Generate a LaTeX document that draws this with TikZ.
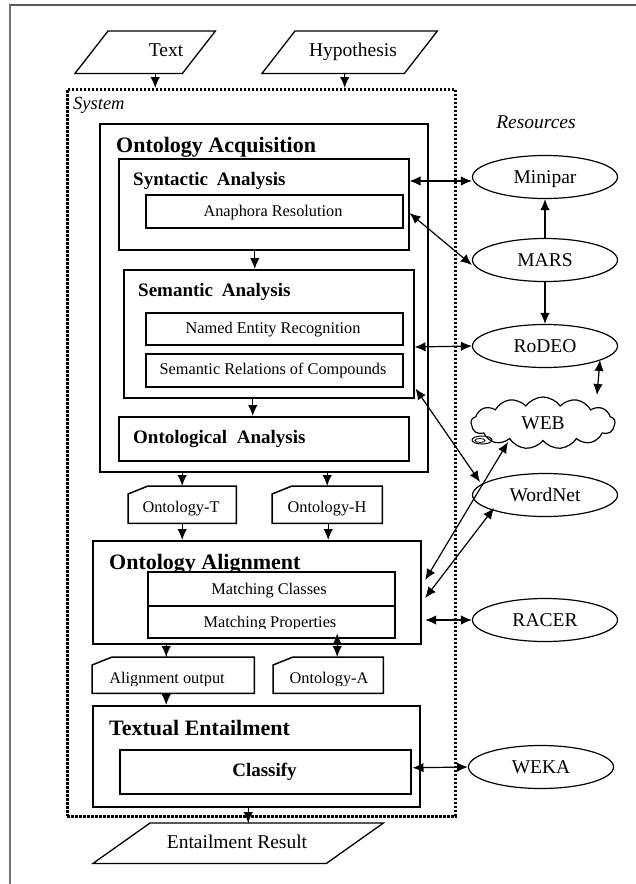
\documentclass[tikz,border=0pt]{standalone}
\usepackage{fontspec}
\setmainfont{Liberation Serif}
\usetikzlibrary{arrows.meta,calc,shapes.geometric,shapes.symbols}

\newcommand\fs[1]{\fontsize{#1}{#1}\selectfont}
% chamfered data box (top-left corner cut off)
\newcommand\cutcorner[1]{\draw[line width=1.5pt] ($(#1.north west)+(0,8)$) -- ($(#1.north west)+(20,0)$) -- (#1.north east) -- (#1.south east) -- (#1.south west) -- cycle;}
% slanted input/output box
\newcommand\slanted[2]{\draw[line width=1.3pt] (#1.south west) -- ($(#1.north west)+(#2,0)$) -- (#1.north east) -- ($(#1.south east)+(-#2,0)$) -- cycle;}

\begin{document}
\begin{tikzpicture}[x=1pt,y=-1pt,
  tip/.style={line width=1.2pt,-{Latex[length=11pt,width=9.5pt]}},
  dbl/.style={line width=1.2pt,{Latex[length=11pt,width=9.5pt]}-{Latex[length=11pt,width=9.5pt]}},
  outerbox/.style={draw, line width=2.2pt, inner sep=0pt, anchor=north west},
  innerbox/.style={draw, line width=1.5pt, inner sep=0pt, anchor=north west, fill=white},
  plainbox/.style={inner sep=0pt, anchor=north west},
  res/.style={draw, ellipse, line width=1.2pt, minimum width=145pt, minimum height=43pt,
    inner sep=0pt, text height=13.3pt, text depth=0pt, font=\fs{19.5}},
  bigtitle/.style={anchor=base west, inner sep=0pt, font=\bfseries\fs{22}},
  midtitle/.style={anchor=base west, inner sep=0pt, font=\bfseries\fs{19}},
  small/.style={anchor=base, inner sep=0pt, font=\fs{16.3}},
  io/.style={anchor=base, inner sep=0pt, font=\fs{19.5}}
]
\useasboundingbox (0,0) rectangle (636,884);

% page frame
\draw[black!65, line width=2pt] (9,5) -- (636,5);
\draw[black!55, line width=2.2pt] (10,5) -- (10,884);

% system frame
\node[draw, line width=2.8pt, dash pattern=on 2.4pt off 1.6pt, inner sep=0pt, anchor=north west,
  minimum width=388pt, minimum height=727pt] (sys) at (66,88) {};
\node[anchor=base west, inner sep=0pt, font=\itshape\fs{18.5}] (syslbl) at (73,109) {System};
\node[anchor=base, inner sep=0pt, font=\itshape\fs{19.5}] (reslbl) at (536,128.5) {Resources};

% inputs
\node[plainbox, minimum width=140pt, minimum height=42pt] (text) at (75,31) {};
\slanted{text}{33}
\node[io] at (166,56.5) {Text};
\node[plainbox, minimum width=175pt, minimum height=42pt] (hyp) at (262,31) {};
\slanted{hyp}{33}
\node[io] at (353,56.5) {Hypothesis};

% ontology acquisition
\node[outerbox, minimum width=328pt, minimum height=348pt] (oacq) at (99,123) {};
\node[bigtitle] at (116,152) {Ontology Acquisition};
\node[innerbox, minimum width=290pt, minimum height=91pt] (syn) at (118,158) {};
\node[midtitle] at (133,185) {Syntactic\hspace{4pt} Analysis};
\node[innerbox, minimum width=257pt, minimum height=33pt] (ana) at (145,194) {};
\node[small] at (273,216.5) {Anaphora Resolution};
\node[innerbox, minimum width=290pt, minimum height=128pt] (sem) at (123,269) {};
\node[midtitle] at (138,296) {Semantic\hspace{4pt} Analysis};
\node[innerbox, minimum width=257pt, minimum height=32pt] (ner) at (145,312) {};
\node[small] at (273,333.5) {Named Entity Recognition};
\node[innerbox, minimum width=257pt, minimum height=33pt] (src) at (145,353) {};
\node[small] at (273,374.5) {Semantic Relations of Compounds};
\node[innerbox, minimum width=290pt, minimum height=44pt] (ont) at (118,416) {};
\node[midtitle] at (133,443) {Ontological\hspace{5pt} Analysis};

% intermediate ontologies
\node[plainbox, minimum width=108pt, minimum height=37pt] (ontT) at (128,486) {};
\cutcorner{ontT}
\begin{scope}
  \clip (128,486) rectangle (236,515);
  \node[small] at (181,512.7) {Ontology-T};
\end{scope}
\node[plainbox, minimum width=110pt, minimum height=37pt] (ontH) at (272,486) {};
\cutcorner{ontH}
\begin{scope}
  \clip (272,486) rectangle (382,515);
  \node[small] at (327,512.7) {Ontology-H};
\end{scope}

% ontology alignment
\node[outerbox, minimum width=328pt, minimum height=103pt] (oal) at (92,540) {};
\node[bigtitle] at (109,569) {Ontology Alignment};
\node[innerbox, minimum width=247pt, minimum height=34pt] (mc) at (147,571) {};
\node[small] at (269,594.5) {Matching Classes};
\node[innerbox, minimum width=247pt, minimum height=32pt] (mp) at (147,605) {};
\begin{scope}
  \clip (147,605) rectangle (394,628);
  \node[small] at (270,627) {Matching Properties};
\end{scope}

\node[plainbox, minimum width=162pt, minimum height=36pt] (aout) at (92,657) {};
\cutcorner{aout}
\begin{scope}
  \clip (92,657) rectangle (254,685);
  \node[small] at (167,683.3) {Alignment output};
\end{scope}
\node[plainbox, minimum width=110pt, minimum height=36pt] (ontA) at (273,657) {};
\cutcorner{ontA}
\begin{scope}
  \clip (273,657) rectangle (383,685);
  \node[small] at (329,683) {Ontology-A};
\end{scope}

% textual entailment
\node[outerbox, minimum width=327pt, minimum height=101pt] (te) at (92,705) {};
\node[bigtitle] at (109,735) {Textual Entailment};
\node[innerbox, minimum width=291pt, minimum height=44pt] (cls) at (119,749) {};
\node[anchor=base, inner sep=0pt, font=\bfseries\fs{19}] at (264.5,776) {Classify};

% output
\node[plainbox, minimum width=290pt, minimum height=40pt] (result) at (93,823) {};
\slanted{result}{57}
\node[io] at (237,848) {Entailment Result};

% resources
\node[res] (mini) at (545,177) {Minipar};
\node[res] (mars) at (545,260) {MARS};
\node[res] (rodeo) at (545,346) {RoDEO};
\node[cloud, draw, line width=1.2pt, cloud puffs=13, cloud puff arc=110, aspect=2.7,
  minimum width=144pt, minimum height=52pt, inner sep=0pt, font=\fs{19.5}] (web) at (543,423) {WEB};
\draw[line width=1pt] (482,440) ellipse [x radius=10, y radius=4];
\draw[line width=0.8pt] (480,440.5) ellipse [x radius=5, y radius=2];
\node[res] (wordnet) at (545,495) {WordNet};
\node[res] (racer) at (545,620) {RACER};
\node[res] (weka) at (541,767) {WEKA};

% flow inside the system
\draw[tip] ($(text.south)+(10,0)$) coordinate (t0) -- (t0 |- sys.north);
\draw[tip] ($(hyp.south)+(-5,0)$) coordinate (h0) -- (h0 |- sys.north);
\draw[tip] ($(syn.south)+(-9,0)$) coordinate (s0) -- (s0 |- sem.north);
\draw[tip] ($(sem.south)+(-16,0)$) coordinate (s1) -- (s1 |- ont.north);
\draw[tip] (ontT.north |- oacq.south) -- (ontT.north);
\draw[tip] (ontH.north |- oacq.south) -- (ontH.north);
\draw[tip] (ontT.south) -- (ontT.south |- oal.north);
\draw[tip] ($(ontH.south)+(1,0)$) coordinate (h1) -- (h1 |- oal.north);
\draw[tip] ($(aout.north)+(-7,0)$) coordinate (a0) -- (a0 |- oal.south) (a0 |- oal.south) -- (a0);
\draw[tip] ($(aout.south)+(-7,0)$) coordinate (a1) -- (a1 |- te.north);
\draw[dbl] ($(ontA.north)+(9,0)$) coordinate (q0) -- ($(q0 |- mp.south)+(0,-5)$);
\draw[tip] ($(result.north)+(10,0)$) coordinate (r0) -- (r0 |- te.south) (r0 |- te.south) -- (r0);

% links to resources
\draw[dbl] ($(syn.north east)+(0,23)$) coordinate (k1) -- (k1 -| mini.west);
\draw[dbl] ($(syn.north east)+(0,55)$) -- ($(mars.west)+(0,5)$);
\draw[tip] (mars.north) -- (mini.south);
\draw[tip] (mars.south) -- (rodeo.north);
\draw[dbl] ($(sem.north east)+(0,78)$) -- (rodeo.west);
\draw[dbl] ($(rodeo.center)+(55,14)$) -- ($(web.center)+(54,-28)$);
\draw[dbl] ($(sem.south east)+(1,-10)$) -- ($(wordnet.center)+(-65,-13)$);
\draw[dbl] ($(oal.north east)+(3,40)$) -- ($(web.center)+(-35,19)$);
\draw[dbl] ($(oal.north east)+(3,58)$) -- ($(wordnet.center)+(-51,13)$);
\draw[dbl] ($(oal.north east)+(3,80)$) -- (racer.west);
\draw[dbl] ($(cls.east)+(1,-4)$) -- ($(weka.west)$);
\end{tikzpicture}
\end{document}
